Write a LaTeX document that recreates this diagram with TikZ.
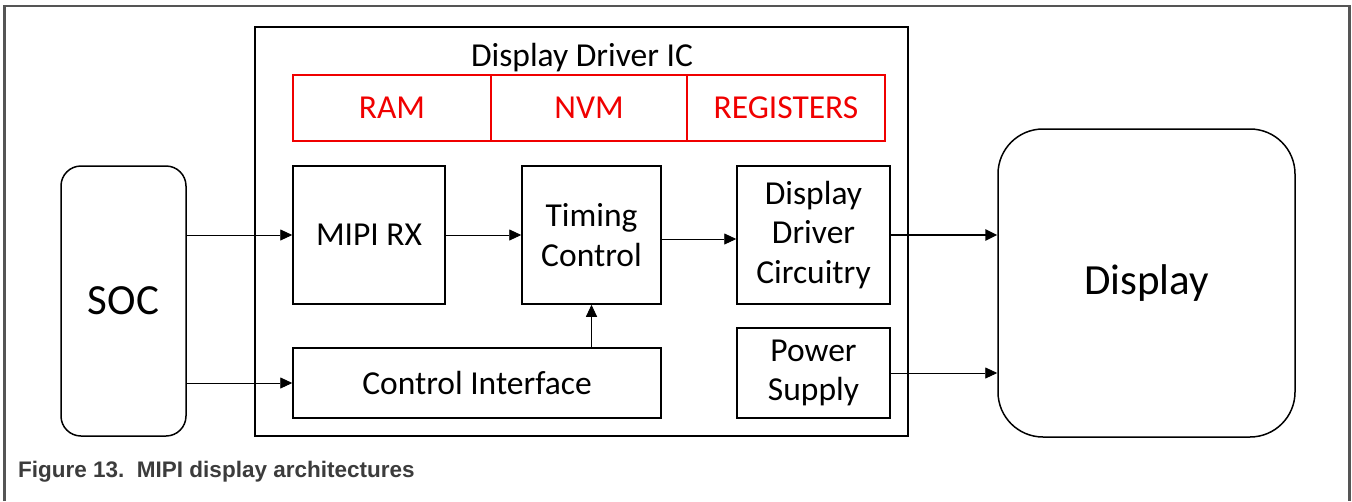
\documentclass[tikz,border=0pt]{standalone}
\usepackage{fontspec}
\setmainfont{Carlito}
\newfontfamily\capfont{Liberation Sans}
\usetikzlibrary{arrows.meta,calc}
\definecolor{regred}{RGB}{240,0,0}
\definecolor{framegray}{RGB}{85,85,85}
\definecolor{capgray}{RGB}{60,60,60}
\tikzset{
  blk/.style={draw, line width=1.5pt, inner sep=0pt, align=center,
    font=\fontsize{33.5}{39.5}\selectfont},
  redblk/.style={blk, draw=regred, text=regred},
  arr/.style={-{Triangle[length=12pt,width=11pt]}, line width=0.9pt},
}

\begin{document}
\begin{tikzpicture}[x=1pt,y=-1pt]
      \useasboundingbox (0,0) rectangle (1352,501);
      \draw[framegray, line width=2.5pt] (4.5,501) -- (4.5,6) -- (1349.5,6) -- (1349.5,501);

      % outer blocks
      \node[blk, rounded corners=20pt, minimum width=125pt, minimum height=270pt,
        font=\fontsize{43}{50}\selectfont] (soc) at (123.5,301) {SOC};
      \node[blk, rounded corners=45pt, minimum width=297pt, minimum height=308pt,
        font=\fontsize{43}{50}\selectfont] (disp) at (1146.5,283) {Display};

      % driver IC
      \node[blk, minimum width=653pt, minimum height=409pt] (ddic) at (581.5,231.5) {};
      \node[anchor=base, font=\fontsize{33.5}{39.5}\selectfont] (ddictitle) at (582,66) {Display Driver IC};
      \node[redblk, minimum width=198pt, minimum height=66pt] (ram) at (392,108) {RAM};
      \node[redblk, minimum width=196pt, minimum height=66pt] (nvm) at (589,108) {NVM};
      \node[redblk, minimum width=198pt, minimum height=66pt] (regs) at (786,108) {REGISTERS};

      \node[blk, minimum width=152pt, minimum height=138pt] (mipi) at (369,235) {MIPI RX};
      \node[blk, minimum width=139pt, minimum height=138pt] (timing) at (591.5,235) {Timing\\Control};
      \node[blk, minimum width=153pt, minimum height=138pt] (ddc) at (813.5,235) {Display\\Driver\\Circuitry};
      \node[blk, minimum width=368pt, minimum height=70pt] (ctrl) at (477,383) {Control Interface};
      \node[blk, minimum width=153pt, minimum height=90pt] (psu) at (813.5,373) {Power\\Supply};

      % connections
      \draw[arr] (soc.east |- mipi.west) -- (mipi.west);
      \draw[arr] (soc.east |- ctrl.west) -- (ctrl.west);
      \draw[arr] (mipi.east) -- (timing.west);
      \draw[arr] ([yshift=-4pt]timing.east) -- ([yshift=-4pt]ddc.west);
      \draw[arr] (ctrl.north -| timing.south) -- (timing.south);
      \draw[arr, line width=2.5pt] (ddc.east) -- (ddc.east -| disp.west);
      \draw[arr] (psu.east) -- (psu.east -| disp.west);

      \node[anchor=base west, inner sep=0pt, text=capgray,
        font=\capfont\bfseries\fontsize{22.5}{26}\selectfont] (caption) at (18,477)
        {Figure 13.\ \ MIPI display architectures};
\end{tikzpicture}
\end{document}
